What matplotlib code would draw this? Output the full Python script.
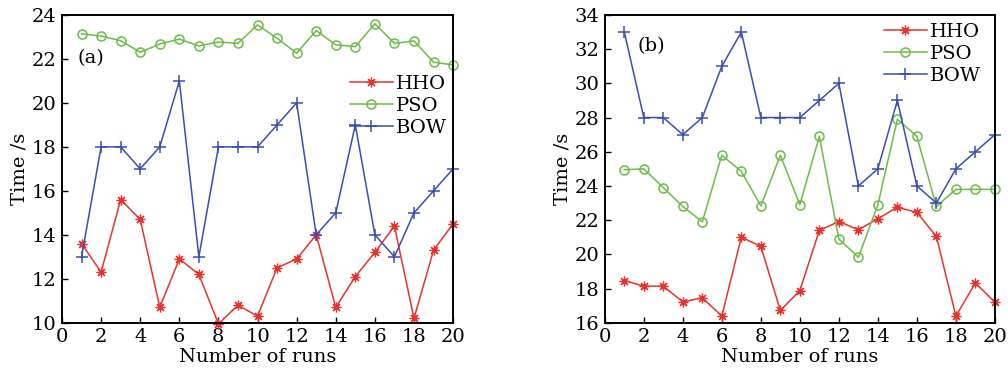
import numpy as np
import matplotlib
matplotlib.use('Agg')
import matplotlib.pyplot as plt

plt.rcParams['font.family'] = ['DejaVu Serif']
plt.rcParams['mathtext.fontset'] = 'dejavuserif'

runs = np.arange(1, 21)

# panel (a)
hho_a = [13.6, 12.3, 15.6, 14.7, 10.7, 12.9, 12.2, 9.95, 10.8, 10.3,
         12.5, 12.9, 14.0, 10.7, 12.1, 13.2, 14.4, 10.2, 13.3, 14.5]
pso_a = [23.14, 23.04, 22.83, 22.3, 22.68, 22.9, 22.59, 22.77, 22.71, 23.55,
         22.94, 22.26, 23.29, 22.64, 22.56, 23.6, 22.71, 22.82, 21.85, 21.73]
bow_a = [13, 18, 18, 17, 18, 21, 13, 18, 18, 18,
         19, 20, 14, 15, 19, 14, 13, 15, 16, 17]

# panel (b)
hho_b = [18.47, 18.14, 18.14, 17.22, 17.46, 16.39, 21.0, 20.47, 16.72, 17.88,
         21.4, 21.92, 21.44, 22.08, 22.76, 22.45, 21.05, 16.39, 18.33, 17.2]
pso_b = [24.95, 25.0, 23.9, 22.8, 21.9, 25.8, 24.85, 22.83, 25.8, 22.9,
         26.9, 20.9, 19.83, 22.9, 27.9, 26.9, 22.8, 23.8, 23.8, 23.8]
bow_b = [33, 28, 28, 27, 28, 31, 33, 28, 28, 28,
         29, 30, 24, 25, 29, 24, 23, 25, 26, 27]

names = ['HHO', 'PSO', 'BOW']
colors = ['#e8332b', '#6cbd45', '#3a4db5']
markers = [(8, 2, 0), 'o', '+']

fig = plt.figure(figsize=(10.08, 3.74), dpi=100)
ax1 = fig.add_axes([0.0615, 0.137, 0.388, 0.823])
ax2 = fig.add_axes([0.600, 0.137, 0.387, 0.823])


def draw(ax, series, ylim, yticks, tag, tagpos, legpos):
    for ys, name, c, m in zip(series, names, colors, markers):
        kw = dict(color=c, marker=m, lw=1.1, label=name, clip_on=False)
        if m == 'o':
            kw.update(markerfacecolor='none', markeredgewidth=1.1, markersize=6.5)
        elif m == '+':
            kw.update(markersize=8, markeredgewidth=1.1)
        else:
            kw.update(markersize=7, markeredgewidth=0.9)
        ax.plot(runs, ys, **kw)
    ax.set_xlim(0, 20)
    ax.set_ylim(*ylim)
    ax.set_xticks(range(0, 21, 2))
    ax.set_yticks(yticks)
    ax.tick_params(direction='in', labelsize=14, length=4, width=1)
    ax.tick_params(axis='y', pad=4)
    ax.tick_params(axis='x', pad=4)
    for s in ax.spines.values():
        s.set_linewidth(1.4)
    ax.set_xlabel('Number of runs', fontsize=14, labelpad=1)
    ax.set_ylabel('Time /s', fontsize=14, labelpad=2)
    ax.text(tagpos[0], tagpos[1], tag, transform=ax.transAxes, fontsize=14,
            va='center', ha='left')
    ax.legend(loc='upper right', bbox_to_anchor=legpos, frameon=False, fontsize=14,
              handlelength=2.2, handletextpad=0.2, labelspacing=0.2, borderaxespad=0)


draw(ax1, [hho_a, pso_a, bow_a], (10, 24), range(10, 25, 2), '(a)', (0.04, 0.86), (1.005, 0.83))
draw(ax2, [hho_b, pso_b, bow_b], (16, 34), range(16, 35, 2), '(b)', (0.085, 0.9), (0.985, 1.0))

fig.savefig('out.png', dpi=100)
